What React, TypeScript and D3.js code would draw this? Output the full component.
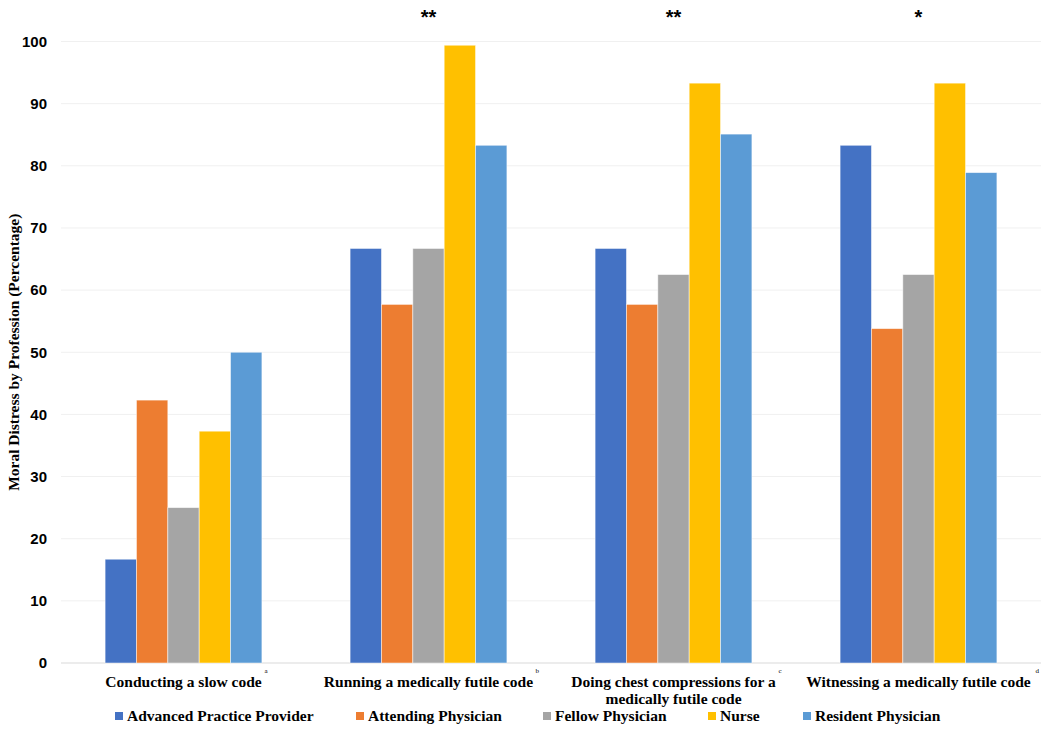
import React from 'react';
import * as d3 from 'd3';

const categories = [
  'Conducting a slow code',
  'Running a medically futile code',
  'Doing chest compressions for a medically futile code',
  'Witnessing a medically futile code',
];
const categoryLines = [
  ['Conducting a slow code'],
  ['Running a medically futile code'],
  ['Doing chest compressions for a', 'medically futile code'],
  ['Witnessing a medically futile code'],
];
const footnotes = ['a', 'b', 'c', 'd'];
const significance = ['', '**', '**', '*'];

const professions = [
  'Advanced Practice Provider',
  'Attending Physician',
  'Fellow Physician',
  'Nurse',
  'Resident Physician',
];
const colors = ['#4472C4', '#ED7D31', '#A5A5A5', '#FFC000', '#5B9BD5'];

const appValues = [16.7, 66.7, 66.7, 83.3];
const attendingValues = [42.3, 57.7, 57.7, 53.8];
const fellowValues = [25.0, 66.7, 62.5, 62.5];
const nurseValues = [37.3, 99.4, 93.3, 93.3];
const residentValues = [50.0, 83.3, 85.1, 78.9];

const seriesValues = [appValues, attendingValues, fellowValues, nurseValues, residentValues];
const yTicks = [0, 10, 20, 30, 40, 50, 60, 70, 80, 90, 100];

const width = 1050;
const height = 730;
const margin = { l: 61, r: 9, t: 41.5, b: 67 };

const serif = '"Liberation Serif", "Times New Roman", serif';
const sans = '"Liberation Sans", Arial, sans-serif';

// legend item x positions (swatch left)
const legendX = [115, 356, 543, 708, 803];
// footnote offsets from label centre
const footnoteDx = [81, 107, 105, 117];

export default function App() {
  const x0 = d3
    .scaleBand<string>()
    .domain(categories)
    .range([margin.l, width - margin.r])
    .paddingInner(0.36)
    .paddingOuter(0.18);

  const x1 = d3
    .scaleBand<string>()
    .domain(professions)
    .range([0, x0.bandwidth()]);

  const y = d3
    .scaleLinear()
    .domain([0, 100])
    .range([height - margin.b, margin.t]);

  const [xMin, xMax] = x0.range();

  return (
    <svg
      width={width}
      height={height}
      style={{ position: 'absolute', left: 0, top: 0, background: '#fff' }}
    >
      {/* grid */}
      <g>
        {yTicks.map((t) => (
          <line
            key={t}
            x1={xMin}
            x2={xMax}
            y1={y(t)}
            y2={y(t)}
            stroke={t === 0 ? '#D9D9D9' : '#F0F0F0'}
            strokeWidth={1}
          />
        ))}
      </g>

      {/* y tick labels */}
      <g>
        {yTicks.map((t) => (
          <text
            key={t}
            x={47}
            y={y(t)}
            dy="0.35em"
            textAnchor="end"
            fontFamily={sans}
            fontWeight="bold"
            fontSize={15}
            fill="#000"
          >
            {t}
          </text>
        ))}
      </g>

      {/* y axis title */}
      <text
        transform={`translate(19, ${(y(0) + y(100)) / 2}) rotate(-90)`}
        textAnchor="middle"
        fontFamily={serif}
        fontWeight="bold"
        fontSize={15.5}
      >
        Moral Distress by Profession (Percentage)
      </text>

      {/* bars */}
      <g>
        {categories.map((c, ci) => (
          <g key={c} transform={`translate(${x0(c)},0)`}>
            {professions.map((p, pi) => (
              <rect
                key={p}
                x={x1(p)}
                y={y(seriesValues[pi][ci])}
                width={x1.bandwidth()}
                height={y(0) - y(seriesValues[pi][ci])}
                fill={colors[pi]}
                stroke="#fff"
                strokeOpacity={0.6}
                strokeWidth={0.8}
              />
            ))}
          </g>
        ))}
      </g>

      {/* significance stars */}
      <g>
        {categories.map((c, ci) => (
          <text
            key={c}
            x={(x0(c) as number) + x0.bandwidth() / 2}
            y={24}
            textAnchor="middle"
            fontFamily={sans}
            fontWeight="bold"
            fontSize={20}
          >
            {significance[ci]}
          </text>
        ))}
      </g>

      {/* category labels */}
      <g>
        {categories.map((c, ci) => {
          const cx = (x0(c) as number) + x0.bandwidth() / 2;
          const lines = categoryLines[ci];
          return (
            <g key={c}>
              <text
                x={cx}
                y={687}
                textAnchor="middle"
                fontFamily={serif}
                fontWeight="bold"
                fontSize={15.5}
              >
                {lines.map((l, li) => (
                  <tspan key={li} x={cx} dy={li === 0 ? 0 : 17}>
                    {l}
                  </tspan>
                ))}
              </text>
              <text x={cx + footnoteDx[ci]} y={673} fontFamily={serif} fontSize={7}>
                {footnotes[ci]}
              </text>
            </g>
          );
        })}
      </g>

      {/* legend */}
      <g>
        {professions.map((p, pi) => (
          <g key={p} transform={`translate(${legendX[pi]}, 716)`}>
            <rect x={0} y={-4} width={8} height={8} fill={colors[pi]} />
            <text
              x={12}
              y={0}
              dy="0.35em"
              fontFamily={serif}
              fontWeight="bold"
              fontSize={15.5}
            >
              {p}
            </text>
          </g>
        ))}
      </g>
    </svg>
  );
}
